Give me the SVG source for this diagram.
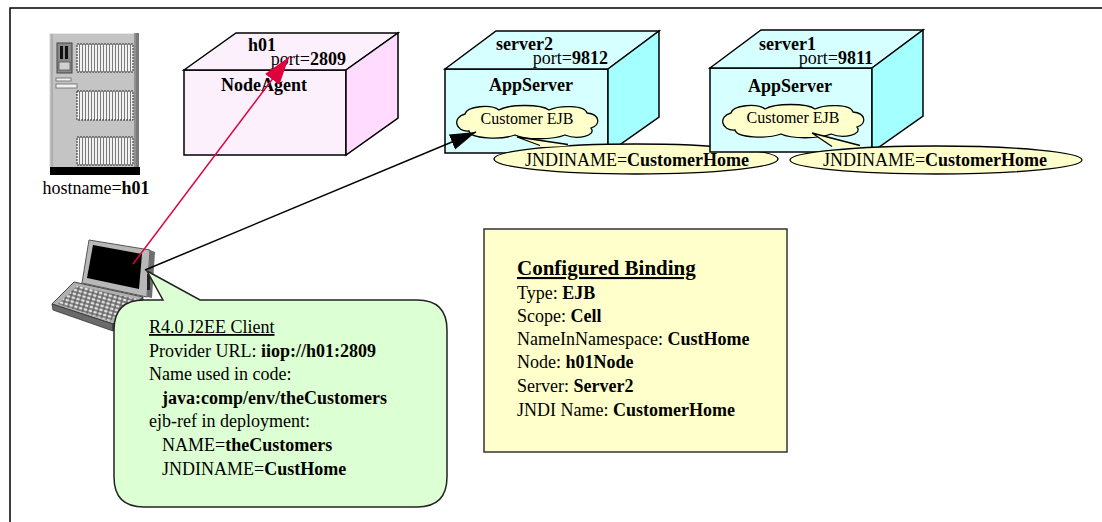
<svg xmlns="http://www.w3.org/2000/svg" xmlns:xlink="http://www.w3.org/1999/xlink" width="1102" height="522" viewBox="0 0 1102 522">
  <style>
    text { font-family: "Liberation Serif", "Times New Roman", serif; font-size: 18px; fill: #000; }
    .b { font-weight: bold; }
    .u { text-decoration: underline; }
    .small { font-size: 16px; }
    .title { font-size: 21px; font-weight: bold; text-decoration: underline; }
    .edge { stroke: #000; stroke-width: 1.5; stroke-linejoin: miter; }
    .na-front { fill: #fdf0fd; }
    .na-side { fill: #ffdcff; }
    .as-front { fill: #d6ffff; }
    .as-side { fill: #a4ffff; }
    .cloud { fill: #ffffcc; stroke: #000; stroke-width: 1.3; }
    .tag { fill: #ffffcc; stroke: #000; stroke-width: 1.3; }
  </style>
  <defs>
    <!-- scalloped cloud outline, 146 x 32 -->
    <path id="cloud" d="M 12 9 C 14 1, 38 -1, 46 5 C 56 -1, 88 -1, 96 5 C 106 0, 132 0, 134 8 C 147 9, 148 20, 138 23 C 144 31, 124 35, 112 30 C 100 35, 72 35, 62 30 C 48 35, 18 34, 16 26 C 2 27, -1 12, 12 9 Z"/>
    <!-- grille used on the tower vents -->
    <pattern id="grille" width="3" height="6" patternUnits="userSpaceOnUse">
      <rect width="3" height="6" fill="#f2f2f2"/>
      <line x1="1.5" y1="0" x2="1.5" y2="6" stroke="#7a7a7a" stroke-width="1"/>
    </pattern>
    <!-- keyboard keys -->
    <pattern id="keys" width="5" height="4" patternUnits="userSpaceOnUse" patternTransform="rotate(16)">
      <rect width="5" height="4" fill="#5a5a5a"/>
      <rect x="0.7" y="0.7" width="3.6" height="2.6" fill="#e2e2e2"/>
    </pattern>
    <marker id="arrow-red" markerUnits="userSpaceOnUse" markerWidth="30" markerHeight="20" refX="28" refY="9" orient="auto">
      <path d="M0,0 L28,9 L0,18 Z" fill="#e0003c"/>
    </marker>
    <marker id="arrow-black" markerUnits="userSpaceOnUse" markerWidth="28" markerHeight="18" refX="26" refY="8" orient="auto">
      <path d="M0,0 L26,8 L0,16 Z" fill="#000"/>
    </marker>
  </defs>

  <!-- page frame -->
  <path d="M10,522 V8 H1102" fill="none" stroke="#000" stroke-width="1.5"/>

  <!-- host machine h01 -->
  <g id="host-h01">
    <rect x="49" y="33" width="90" height="135" fill="#c4c4c4"/>
    <line x1="49.5" y1="33" x2="49.5" y2="168" stroke="#e8e8e8" stroke-width="1"/>
    <line x1="52" y1="33" x2="52" y2="168" stroke="#9a9a9a" stroke-width="1"/>
    <line x1="49" y1="33.5" x2="139" y2="33.5" stroke="#e8e8e8" stroke-width="1"/>
    <rect x="134" y="33" width="5" height="135" fill="#7a7a7a"/>
    <line x1="135" y1="33" x2="135" y2="168" stroke="#a8a8a8" stroke-width="1"/>
    <rect x="50" y="167" width="90" height="8" fill="#000"/>
    <!-- control panel -->
    <rect x="57" y="43" width="15" height="30" fill="#8a8a8a" stroke="#444" stroke-width="1"/>
    <rect x="60" y="46" width="3" height="13" fill="#111"/>
    <rect x="65" y="46" width="3" height="13" fill="#111"/>
    <rect x="59" y="62" width="11" height="8" fill="#d0d0d0" stroke="#555" stroke-width="0.8"/>
    <!-- drive slots -->
    <rect x="56" y="78" width="15" height="3" fill="#f0f0f0" stroke="#666" stroke-width="0.8"/>
    <rect x="56" y="84" width="21" height="4" fill="#f0f0f0" stroke="#666" stroke-width="0.8"/>
    <!-- vents -->
    <rect x="77" y="44" width="56" height="28" fill="url(#grille)" stroke="#222" stroke-width="1" stroke-dasharray="2 1"/>
    <rect x="77" y="91" width="56" height="29" fill="url(#grille)" stroke="#222" stroke-width="1" stroke-dasharray="2 1"/>
    <rect x="77" y="137" width="56" height="28" fill="url(#grille)" stroke="#222" stroke-width="1" stroke-dasharray="2 1"/>
    <text x="96" y="194" text-anchor="middle">hostname=<tspan class="b">h01</tspan></text>
  </g>

  <!-- node agent h01 -->
  <g id="node-agent">
    <rect class="na-front edge" x="184" y="70" width="162" height="85"/>
    <polygon class="na-front edge" points="184,70 236,33 398,33 346,70"/>
    <polygon class="na-side edge" points="346,70 398,33 398,118 346,155"/>
    <text class="b" x="248" y="51">h01</text>
    <text x="346" y="65" text-anchor="end">port=<tspan class="b">2809</tspan></text>
    <text class="b" x="221" y="91">NodeAgent</text>
  </g>

  <!-- application server server2 -->
  <g id="server2">
    <rect class="as-front edge" x="445" y="69" width="163" height="84"/>
    <polygon class="as-front edge" points="445,69 496,31 659,31 608,69"/>
    <polygon class="as-side edge" points="608,69 659,31 659,117 608,153"/>
    <text class="b" x="496" y="50">server2</text>
    <text x="608" y="64" text-anchor="end">port=<tspan class="b">9812</tspan></text>
    <text class="b" x="531" y="91" text-anchor="middle">AppServer</text>
    <use xlink:href="#cloud" href="#cloud" x="453" y="105" class="cloud"/>
    <text class="small" x="527" y="124" text-anchor="middle">Customer EJB</text>
    <ellipse class="tag" cx="636" cy="159" rx="142" ry="15"/>
    <polygon points="517,137 540,147 570,146" fill="#ffffcc"/>
    <polyline points="540,145.5 517,137 568,144.5" fill="none" stroke="#000" stroke-width="1.3"/>
    <text x="637" y="166" text-anchor="middle">JNDINAME=<tspan class="b">CustomerHome</tspan></text>
  </g>

  <!-- application server server1 -->
  <g id="server1">
    <rect class="as-front edge" x="710" y="68" width="162" height="84"/>
    <polygon class="as-front edge" points="710,68 761,30 923,30 872,68"/>
    <polygon class="as-side edge" points="872,68 923,30 923,116 872,152"/>
    <text class="b" x="759" y="50">server1</text>
    <text x="873" y="64" text-anchor="end">port=<tspan class="b">9811</tspan></text>
    <text class="b" x="790" y="92" text-anchor="middle">AppServer</text>
    <use xlink:href="#cloud" href="#cloud" x="719" y="104" class="cloud"/>
    <text class="small" x="793" y="123" text-anchor="middle">Customer EJB</text>
    <ellipse class="tag" cx="936" cy="160" rx="146" ry="14"/>
    <polygon points="812,133 832,148 862,147" fill="#ffffcc"/>
    <polyline points="832,146.5 812,133 860,145.5" fill="none" stroke="#000" stroke-width="1.3"/>
    <text x="935" y="166" text-anchor="middle">JNDINAME=<tspan class="b">CustomerHome</tspan></text>
  </g>

  <!-- client laptop -->
  <g id="client-laptop">
    <polygon points="74,282 143,297 113,324 52,304" fill="#b0b0b0" stroke="#444" stroke-width="1"/>
    <polygon points="52,304 113,324 113,331 53,310" fill="#6a6a6a" stroke="#333" stroke-width="0.8"/>
    <polygon points="113,324 143,297 143,303 113,331" fill="#555" stroke="#333" stroke-width="0.8"/>
    <polygon points="77,286 137,299 110,321 58,304" fill="url(#keys)"/>
    <polygon points="89,240 150,250 147,297 82,283" fill="#b8b8b8" stroke="#555" stroke-width="1"/>
    <polygon points="150,250 155,252 152,298 147,297" fill="#6e6e6e"/>
    <polygon points="93,245 142,254 139,289 87,278" fill="#000"/>
    <rect x="147" y="274" width="3" height="16" fill="#222"/>
  </g>

  <!-- client settings callout -->
  <g id="client-callout">
    <path d="M 144 300 L 163 300 L 147 271 L 200 300 L 417 300 Q 447 300 447 330 L 447 477 Q 447 507 417 507 L 144 507 Q 114 507 114 477 L 114 330 Q 114 300 144 300 Z" fill="#ddffd4" stroke="#222" stroke-width="1.5"/>
    <text class="u" x="149" y="333">R4.0 J2EE Client</text>
    <text x="149" y="357">Provider URL: <tspan class="b">iiop://h01:2809</tspan></text>
    <text x="149" y="380">Name used in code:</text>
    <text class="b" x="162" y="404">java:comp/env/theCustomers</text>
    <text x="149" y="427">ejb-ref in deployment:</text>
    <text x="162" y="451">NAME=<tspan class="b">theCustomers</tspan></text>
    <text x="162" y="475">JNDINAME=<tspan class="b">CustHome</tspan></text>
  </g>

  <!-- configured binding -->
  <g id="configured-binding">
    <rect x="484" y="229" width="303" height="223" fill="#ffffcc" stroke="#333" stroke-width="1.5"/>
    <text class="title" x="517" y="275">Configured Binding</text>
    <text x="517" y="299">Type: <tspan class="b">EJB</tspan></text>
    <text x="517" y="322">Scope: <tspan class="b">Cell</tspan></text>
    <text x="517" y="345">NameInNamespace: <tspan class="b">CustHome</tspan></text>
    <text x="517" y="368">Node: <tspan class="b">h01Node</tspan></text>
    <text x="517" y="392">Server: <tspan class="b">Server2</tspan></text>
    <text x="517" y="416">JNDI Name: <tspan class="b">CustomerHome</tspan></text>
  </g>

  <!-- lookups from the client -->
  <g id="connectors" fill="none">
    <line x1="133" y1="264" x2="289" y2="57" stroke="#e0003c" stroke-width="1.5" marker-end="url(#arrow-red)"/>
    <line x1="145" y1="270" x2="476" y2="132" stroke="#000" stroke-width="1.5" marker-end="url(#arrow-black)"/>
  </g>
</svg>
